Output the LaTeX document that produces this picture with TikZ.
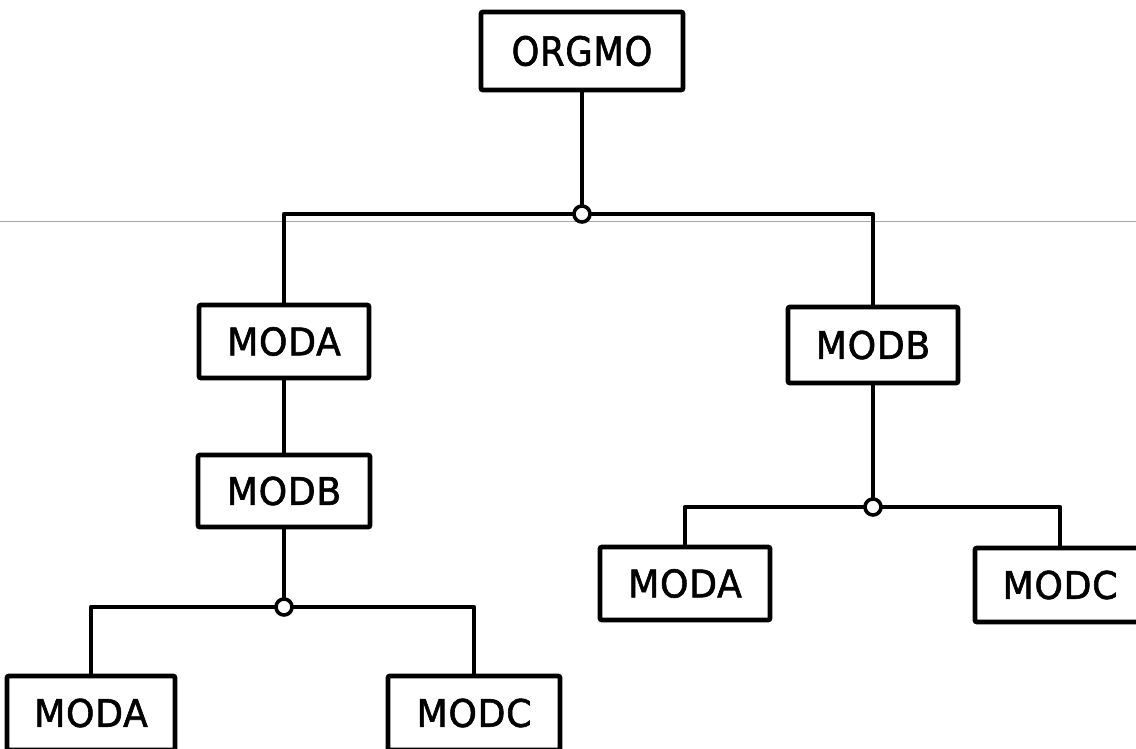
\documentclass[tikz,border=0pt]{standalone}
\usepackage{fontspec}
\newfontfamily\boxfont[FakeStretch=0.95,FakeBold=1.6,LetterSpace=2]{DejaVu Sans}
\newfontfamily\topfont[FakeStretch=0.88,FakeBold=1.6,LetterSpace=2]{DejaVu Sans}
\begin{document}
\begin{tikzpicture}[x=1pt,y=-1pt,
  modbox/.style={draw=black,line width=4.8pt,rounded corners=2pt,fill=white,
    inner sep=0pt,font=\boxfont\fontsize{38}{40}\selectfont},
  link/.style={draw=black,line width=4.8pt,line join=round},
  junction/.style={circle,draw=black,fill=white,line width=3.6pt,
    minimum size=16pt,inner sep=0pt}]
\useasboundingbox (0,0) rectangle (1136,749);
\clip (0,0) rectangle (1136,749);

% faint rule across the sheet
\draw[gray!70,line width=0.8pt] (0,221) -- (1136,221);

% module boxes
\node[modbox,minimum width=202pt,minimum height=78pt,
  font=\topfont\fontsize{40}{42}\selectfont] (orgmo) at (582,51) {ORGMO};
\node[modbox,minimum width=170pt,minimum height=73pt] (modaL) at (284,341.5) {MODA};
\node[modbox,minimum width=172pt,minimum height=72pt] (modbL) at (284,491) {MODB};
\node[modbox,minimum width=168pt,minimum height=74pt] (modaLL) at (91,713) {MODA};
\node[modbox,minimum width=172pt,minimum height=74pt] (modcLR) at (474,713) {MODC};
\node[modbox,minimum width=170pt,minimum height=76pt] (modbR) at (873,345) {MODB};
\node[modbox,minimum width=170pt,minimum height=73pt] (modaR) at (685,583.5) {MODA};
\node[modbox,minimum width=170pt,minimum height=74pt] (modcR) at (1060,585) {MODC};

% branch points
\coordinate (j1) at (582,214);
\coordinate (j2) at (284,607);
\coordinate (j3) at (873,507);

% connectors
\draw[link] (orgmo.south) -- (j1);
\draw[link] (j1) -| (modaL.north);
\draw[link] (j1) -| (modbR.north);
\draw[link] (modaL.south) -- (modbL.north);
\draw[link] (modbL.south) -- (j2);
\draw[link] (j2) -| (modaLL.north);
\draw[link] (j2) -| (modcLR.north);
\draw[link] (modbR.south) -- (j3);
\draw[link] (j3) -| (modaR.north);
\draw[link] (j3) -| (modcR.north);

% junction rings
\node[junction] (r1) at (j1) {};
\node[junction] (r2) at (j2) {};
\node[junction] (r3) at (j3) {};
\end{tikzpicture}
\end{document}
